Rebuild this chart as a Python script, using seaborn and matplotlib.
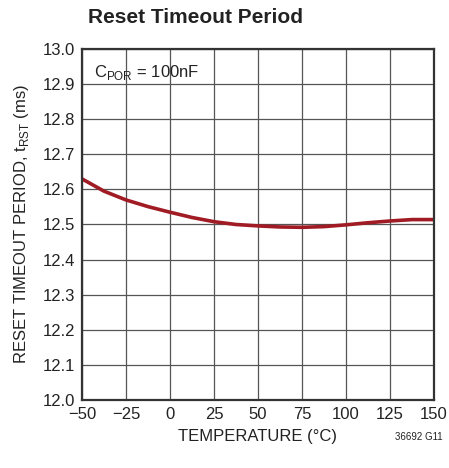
import numpy as np
import pandas as pd
import seaborn as sns
import matplotlib.pyplot as plt
from matplotlib import font_manager

# data
temperature = [-50, -37.5, -25, -12.5, 0, 12.5, 25, 37.5, 50, 62.5, 75, 87.5, 100, 112.5, 125, 137.5, 150]
timeout_ms = [12.630, 12.595, 12.570, 12.551, 12.535, 12.520, 12.508, 12.500, 12.496, 12.493, 12.492, 12.494, 12.499, 12.505, 12.510, 12.514, 12.514]
x_ticks = [-50, -25, 0, 25, 50, 75, 100, 125, 150]
y_ticks = [12.0, 12.1, 12.2, 12.3, 12.4, 12.5, 12.6, 12.7, 12.8, 12.9, 13.0]

df = pd.DataFrame({'temp': temperature, 'trst': timeout_ms})

sns.set_style("white")
names = {f.name for f in font_manager.fontManager.ttflist}
fam = 'Liberation Sans Narrow' if 'Liberation Sans Narrow' in names else 'Liberation Sans'
plt.rcParams['font.family'] = [fam, 'DejaVu Sans']

fig = plt.figure(figsize=(4.49, 4.68), dpi=100)
ax = fig.add_axes([0.1826, 0.1453, 0.784, 0.750])

sns.lineplot(data=df, x='temp', y='trst', ax=ax, color='#a11b24', linewidth=2.6)

ax.set_xlim(-50, 150)
ax.set_ylim(12.0, 13.0)
ax.set_xticks(x_ticks)
ax.set_xticklabels(['\u221250', '\u221225', '0', '25', '50', '75', '100', '125', '150'])
ax.set_yticks(y_ticks)
ax.set_yticklabels([f'{v:.1f}' for v in y_ticks])
ax.tick_params(axis='both', labelsize=12, length=0, pad=5, colors='#222222')
ax.grid(True, color='#555555', linewidth=0.9)
for s in ax.spines.values():
    s.set_color('#333333')
    s.set_linewidth(1.6)

ax.set_xlabel('TEMPERATURE (\u00b0C)', fontsize=12, color='#222222', labelpad=5)
ax.set_ylabel('RESET TIMEOUT PERIOD, t$_{\\mathregular{RST}}$ (ms)', fontsize=12, color='#222222', labelpad=8)

ax.text(0.035, 0.96, 'C$_{\\mathregular{POR}}$ = 100nF', transform=ax.transAxes,
        fontsize=12, color='#222222', va='top', ha='left')

fig.text(0.435, 0.962, 'Reset Timeout Period', fontsize=15, fontweight='bold',
         color='#222222', ha='center', va='center')
fig.text(0.985, 0.066, '36692 G11', fontsize=7, color='#222222', ha='right', va='center')

fig.savefig('out.png', dpi=100)
